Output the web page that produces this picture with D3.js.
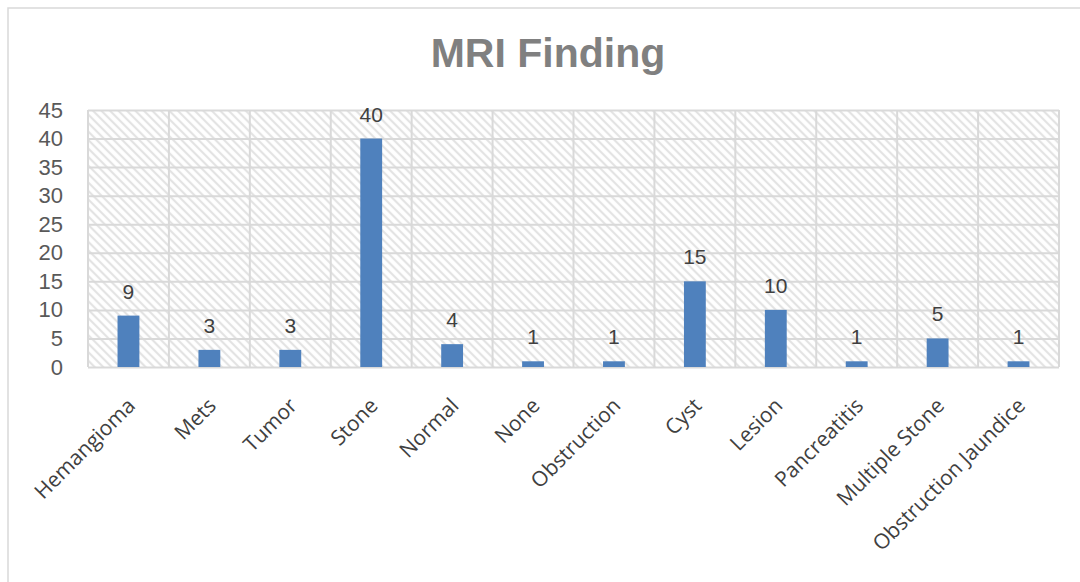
<!DOCTYPE html>
<html>
<head>
<meta charset="utf-8">
<script src="https://cdn.jsdelivr.net/npm/d3@7"></script>
<style>
  body { margin: 0; background: #fff; }
  svg { display: block; }
</style>
</head>
<body>
<svg id="chart" width="1080" height="582"></svg>
<script>
const categories = ["Hemangioma", "Mets", "Tumor", "Stone", "Normal", "None", "Obstruction", "Cyst", "Lesion", "Pancreatitis", "Multiple Stone", "Obstruction Jaundice"];
const counts = [9, 3, 3, 40, 4, 1, 1, 15, 10, 1, 5, 1];
const yTicks = [0, 5, 10, 15, 20, 25, 30, 35, 40, 45];

const margin = {top: 110, right: 21, bottom: 215, left: 88};
const width = 1080 - margin.left - margin.right;
const height = 582 - margin.top - margin.bottom;
const gridColor = "#d9d9d9";

const svg = d3.select("#chart");

// hatch fill for the plot area
const pat = svg.append("defs").append("pattern")
    .attr("id", "hatch")
    .attr("patternUnits", "userSpaceOnUse")
    .attr("width", 6).attr("height", 6)
    .attr("patternTransform", "rotate(45)");
pat.append("rect").attr("width", 6).attr("height", 6).attr("fill", "#fff");
pat.append("line")
    .attr("x1", 0).attr("y1", 3).attr("x2", 6).attr("y2", 3)
    .attr("stroke", "#e3e3e3").attr("stroke-width", 2.2);

// outer chart border
svg.append("rect")
    .attr("x", 8).attr("y", 8)
    .attr("width", 1100).attr("height", 600)
    .attr("fill", "none")
    .attr("stroke", "#d9d9d9")
    .attr("stroke-width", 1.5);

svg.append("text")
    .attr("x", 548).attr("y", 67)
    .attr("text-anchor", "middle")
    .style("font", "bold 41px 'Liberation Sans', Arial, sans-serif")
    .attr("fill", "#808080")
    .text("MRI Finding");

const g = svg.append("g").attr("transform", `translate(${margin.left},${margin.top})`);

const x = d3.scaleBand().domain(categories).range([0, width]).paddingInner(0.73).paddingOuter(0.365);
const y = d3.scaleLinear().domain([0, 45]).range([height, 0]);

g.append("rect")
    .attr("width", width).attr("height", height)
    .attr("fill", "url(#hatch)");

// horizontal grid
g.append("g")
    .call(d3.axisLeft(y).tickValues(yTicks).tickSize(-width).tickFormat(""))
    .call(s => s.select(".domain").remove())
    .call(s => s.selectAll("line").attr("stroke", gridColor).attr("stroke-width", 2));

// vertical grid at category boundaries
const step = x.step();
g.append("g")
    .selectAll("line")
    .data(d3.range(categories.length + 1))
    .join("line")
    .attr("x1", i => i * step).attr("x2", i => i * step)
    .attr("y1", 0).attr("y2", height)
    .attr("stroke", gridColor).attr("stroke-width", 2);

g.selectAll(".bar")
    .data(counts)
    .join("rect")
    .attr("class", "bar")
    .attr("x", (d, i) => x(categories[i]))
    .attr("y", d => y(d))
    .attr("width", x.bandwidth())
    .attr("height", d => height - y(d))
    .attr("fill", "#4f81bd");

g.selectAll(".lbl")
    .data(counts)
    .join("text")
    .attr("class", "lbl")
    .attr("x", (d, i) => x(categories[i]) + x.bandwidth() / 2)
    .attr("y", d => y(d) - 17)
    .attr("text-anchor", "middle")
    .style("font", "21px 'Liberation Sans', Arial, sans-serif")
    .attr("fill", "#404040")
    .text(d => d);

// y axis labels
const yAxis = g.append("g")
    .call(d3.axisLeft(y).tickValues(yTicks).tickSize(0).tickPadding(25));
yAxis.select(".domain").remove();
yAxis.selectAll("text")
    .style("font", "22px 'Liberation Sans', Arial, sans-serif")
    .attr("fill", "#595959");

// x axis labels
const xAxis = g.append("g")
    .attr("transform", `translate(0,${height})`)
    .call(d3.axisBottom(x).tickSize(0));
xAxis.select(".domain").remove();
xAxis.selectAll("text")
    .style("font", "21px 'Open Sans', sans-serif")
    .attr("fill", "#404040")
    .attr("text-anchor", "end")
    .attr("dy", null)
    .attr("y", 0)
    .attr("transform", "translate(8,40) rotate(-45)");
</script>
</body>
</html>
